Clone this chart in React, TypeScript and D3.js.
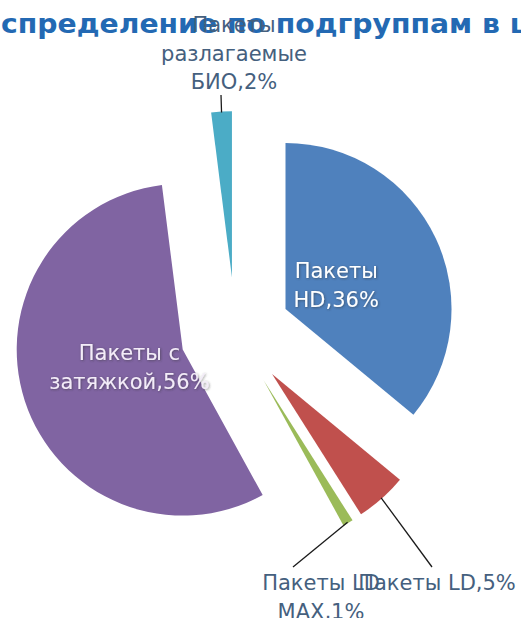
import React, { useLayoutEffect, useRef } from "react";
import * as d3 from "d3";

// ---- data ----
const categories = [
  "Пакеты HD",
  "Пакеты LD",
  "Пакеты LD MAX",
  "Пакеты с затяжкой",
  "Пакеты разлагаемые БИО",
];
const values = [36, 5, 1, 56, 2];
const labelLines = [
  ["Пакеты", "HD,36%"],
  ["Пакеты LD,5%"],
  ["Пакеты LD", "MAX,1%"],
  ["Пакеты с", "затяжкой,56%"],
  ["Пакеты", "разлагаемые", "БИО,2%"],
];
const titleText = "Распределение по подгруппам в целом";

// ---- layout / style ----
const W = 521;
const H = 618;
const colors = ["#4F81BD", "#C0504D", "#9BBB59", "#8064A2", "#4BACC6"];
const cx = 235.4;
const cy = 332.5;
const R = 166;
const explode = 55.4;
const insideLabelR = 56;
const fontSize = 21;
const lineH = 28.5;
const labelColor = "#45607E";
// outside labels: [label centre x, first baseline y, leader end x, leader end y]
const outside: Record<number, [number, number, number, number]> = {
  1: [437, 590, 432, 567],
  2: [321, 590, 293, 567],
  4: [234, 32, 221, 95],
};

export default function App() {
  const titleRef = useRef<SVGTextElement>(null);
  useLayoutEffect(() => {
    const t = titleRef.current;
    if (t) {
      const w0 = t.getSubStringLength(0, 2);
      const visible = "спределение по подгруппам в ";
      const w1 = t.getSubStringLength(2, visible.length);
      const k = 509 / w1;
      t.setAttribute("x", "0");
      t.setAttribute("transform", `translate(${-w0 * k + 1},0) scale(${k},1)`);
    }
  }, []);

  const pie = d3
    .pie<number>()
    .sort(null)
    .value((d) => d)
    .startAngle(0)
    .endAngle(2 * Math.PI);
  const arcs = pie(values);
  const arc = d3.arc<d3.PieArcDatum<number>>().innerRadius(0).outerRadius(R);

  const slices = arcs.map((a, i) => {
    const mid = (a.startAngle + a.endAngle) / 2;
    const ux = Math.sin(mid);
    const uy = -Math.cos(mid);
    const ox = cx + ux * explode;
    const oy = cy + uy * explode;
    return { a, i, mid, ux, uy, ox, oy };
  });

  const capOff = fontSize * 0.729 * 0.5;

  return (
    <svg
      width={W}
      height={H}
      style={{ position: "fixed", left: 0, top: 0, background: "#fff" }}
      fontFamily="'DejaVu Sans', Verdana, sans-serif"
    >
      <defs>
        <filter id="sh" x="-20%" y="-20%" width="140%" height="140%">
          <feDropShadow dx="0.8" dy="0.8" stdDeviation="0.9" floodColor="#333" floodOpacity="0.55" />
        </filter>
      </defs>
      <rect width={W} height={H} fill="#fff" />
      <text
        ref={titleRef}
        x={-36}
        y={33}
        fontSize={26}
        fontWeight="bold"
        fill="#2369B3"
      >
        {titleText}
      </text>
      {slices.map((s) => (
        <path
          key={categories[s.i]}
          d={arc(s.a) || ""}
          transform={`translate(${s.ox},${s.oy})`}
          fill={colors[s.i]}
        />
      ))}
      {slices.map((s) => {
        const o = outside[s.i];
        if (!o) return null;
        const sx = s.ox + s.ux * (R - 1);
        const sy = s.oy + s.uy * (R - 1);
        return (
          <line
            key={"l" + s.i}
            x1={sx}
            y1={sy}
            x2={o[2]}
            y2={o[3]}
            stroke="#1a1a1a"
            strokeWidth={1.3}
          />
        );
      })}
      {slices.map((s) => {
        const lines = labelLines[s.i];
        const o = outside[s.i];
        if (o) {
          return (
            <text key={"t" + s.i} fontSize={fontSize} fill={labelColor} textAnchor="middle">
              {lines.map((ln, k) => (
                <tspan key={k} x={o[0]} y={o[1] + k * lineH}>
                  {ln}
                </tspan>
              ))}
            </text>
          );
        }
        const lx = s.ox + s.ux * insideLabelR;
        const ly = s.oy + s.uy * insideLabelR;
        const n = lines.length;
        return (
          <text
            key={"t" + s.i}
            fontSize={fontSize}
            fill={s.i === 3 ? "#F3ECF8" : "#FFFFFF"}
            textAnchor="middle"
            filter="url(#sh)"
          >
            {lines.map((ln, k) => (
              <tspan key={k} x={lx} y={ly + (k - (n - 1) / 2) * lineH + capOff}>
                {ln}
              </tspan>
            ))}
          </text>
        );
      })}
    </svg>
  );
}
